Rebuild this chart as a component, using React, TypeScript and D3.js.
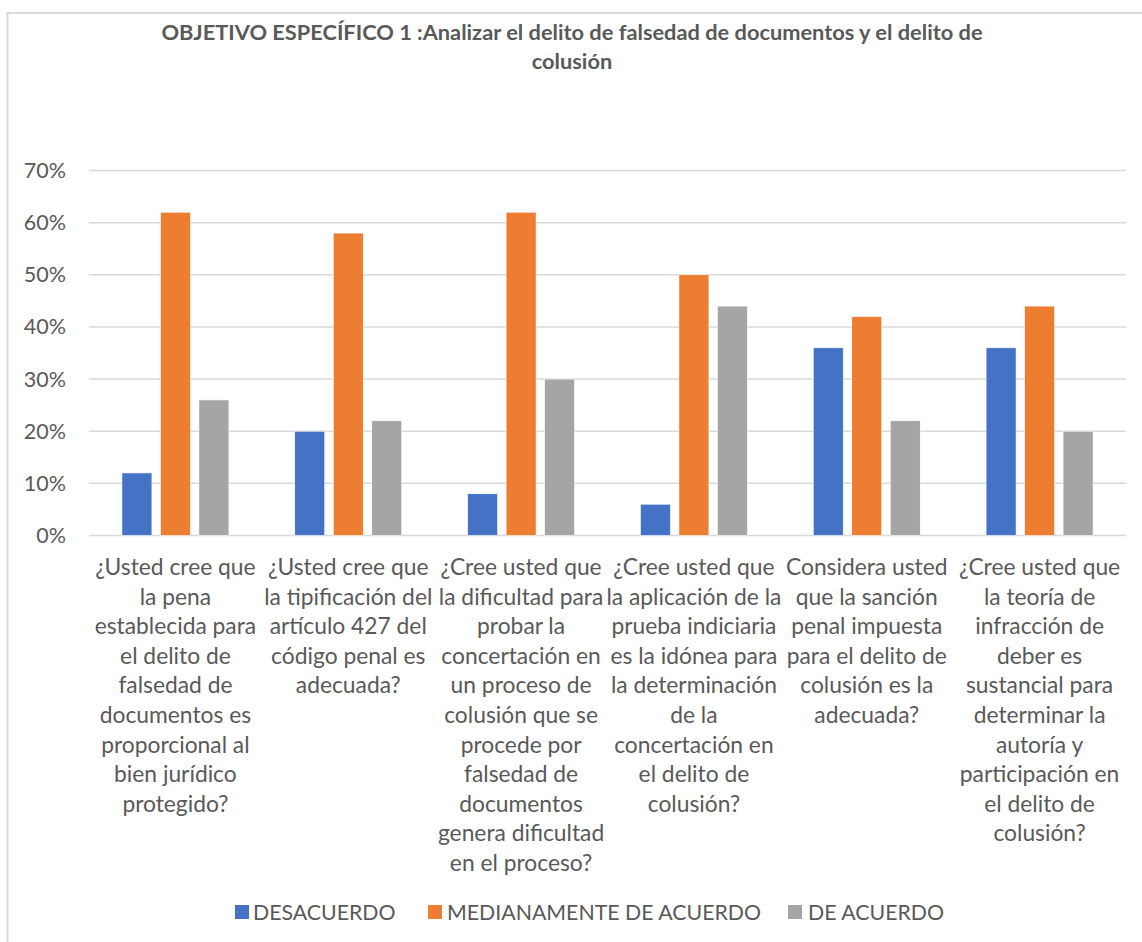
import React from "react";
import * as d3 from "d3";

const W = 1142;
const H = 942;

const titleLines = [
  "OBJETIVO ESPECÍFICO 1 :Analizar el delito de falsedad de documentos y el delito de",
  "colusión",
];

const categories: string[][] = [
  ["¿Usted cree que", "la pena", "establecida para", "el delito de", "falsedad de", "documentos es", "proporcional al", "bien jurídico", "protegido?"],
  ["¿Usted cree que", "la tipificación del", "artículo 427 del", "código penal es", "adecuada?"],
  ["¿Cree usted que", "la dificultad para", "probar la", "concertación en", "un proceso de", "colusión que se", "procede por", "falsedad de", "documentos", "genera dificultad", "en el proceso?"],
  ["¿Cree usted que", "la aplicación de la", "prueba indiciaria", "es la idónea para", "la determinación", "de la", "concertación en", "el delito de", "colusión?"],
  ["Considera usted", "que la sanción", "penal impuesta", "para el delito de", "colusión es la", "adecuada?"],
  ["¿Cree usted que", "la teoría de", "infracción de", "deber es", "sustancial para", "determinar la", "autoría y", "participación en", "el delito de", "colusión?"],
];

const seriesNames = ["DESACUERDO", "MEDIANAMENTE DE ACUERDO", "DE ACUERDO"];
const desacuerdo = [0.12, 0.2, 0.08, 0.06, 0.36, 0.36];
const medianamente = [0.62, 0.58, 0.62, 0.5, 0.42, 0.44];
const deAcuerdo = [0.26, 0.22, 0.3, 0.44, 0.22, 0.2];
const seriesValues = [desacuerdo, medianamente, deAcuerdo];
const colors = ["#4472C4", "#ED7D31", "#A5A5A5"];
const yTicks = [0, 0.1, 0.2, 0.3, 0.4, 0.5, 0.6, 0.7];

const FONT = "Lato, 'Open Sans', sans-serif";

export default function App() {
  const plotLeft = 89;
  const plotRight = 1126;
  const plotTop = 170.5;
  const plotBottom = 535.5;

  const y = d3.scaleLinear().domain([0, 0.7]).range([plotBottom, plotTop]);
  const x0 = d3
    .scaleBand<number>()
    .domain(d3.range(categories.length))
    .range([plotLeft, plotRight])
    .paddingInner(0)
    .paddingOuter(0);
  const x1 = d3
    .scaleBand<number>()
    .domain(d3.range(seriesNames.length))
    .range([0, x0.bandwidth()])
    .paddingInner(0.221)
    .paddingOuter(0.855);
  const fmt = d3.format(".0%");

  const legendItems = [
    { sx: 235, tx: 253 },
    { sx: 428, tx: 447 },
    { sx: 788, tx: 808 },
  ];

  return (
    <svg
      width={W}
      height={H}
      style={{ position: "absolute", left: 0, top: 0, background: "#fff" }}
      fontFamily={FONT}
    >
      <rect x={0} y={0} width={W} height={H} fill="#fff" />
      <rect x={7.5} y={13} width={W + 20} height={H + 20} fill="none" stroke="#D9D9D9" strokeWidth={2} />

      {titleLines.map((t, i) => (
        <text
          key={i}
          x={572}
          y={32 + i * 29}
          dy="0.36em"
          textAnchor="middle"
          fontSize={21.8}
          fontWeight="bold"
          fill="#595959"
        >
          {t}
        </text>
      ))}

      {yTicks.map((t) => (
        <g key={t}>
          <line
            x1={plotLeft}
            x2={plotRight}
            y1={y(t)}
            y2={y(t)}
            stroke="#D9D9D9"
            strokeWidth={1.5}
          />
          <text
            x={66}
            y={y(t)}
            dy="0.35em"
            textAnchor="end"
            fontSize={21.5}
            fill="#595959"
          >
            {fmt(t)}
          </text>
        </g>
      ))}

      {categories.map((_, ci) => (
        <g key={ci} transform={`translate(${x0(ci)},0)`}>
          {seriesValues.map((vals, si) => (
            <rect
              key={si}
              x={x1(si)}
              y={y(vals[ci])}
              width={x1.bandwidth()}
              height={y(0) - y(vals[ci])}
              fill={colors[si]}
              stroke="#fff"
              strokeWidth={0.6}
            />
          ))}
        </g>
      ))}

      {categories.map((lines, ci) => (
        <text
          key={ci}
          x={(x0(ci) as number) + x0.bandwidth() / 2}
          textAnchor="middle"
          fontSize={22.8}
          fill="#595959"
        >
          {lines.map((l, li) => (
            <tspan key={li} x={(x0(ci) as number) + x0.bandwidth() / 2} y={575 + li * 29.6}>
              {l}
            </tspan>
          ))}
        </text>
      ))}

      {seriesNames.map((n, i) => (
        <g key={n}>
          <rect x={legendItems[i].sx} y={905} width={14} height={14} fill={colors[i]} />
          <text x={legendItems[i].tx} y={912} dy="0.36em" fontSize={21.3} fill="#595959">
            {n}
          </text>
        </g>
      ))}
    </svg>
  );
}
